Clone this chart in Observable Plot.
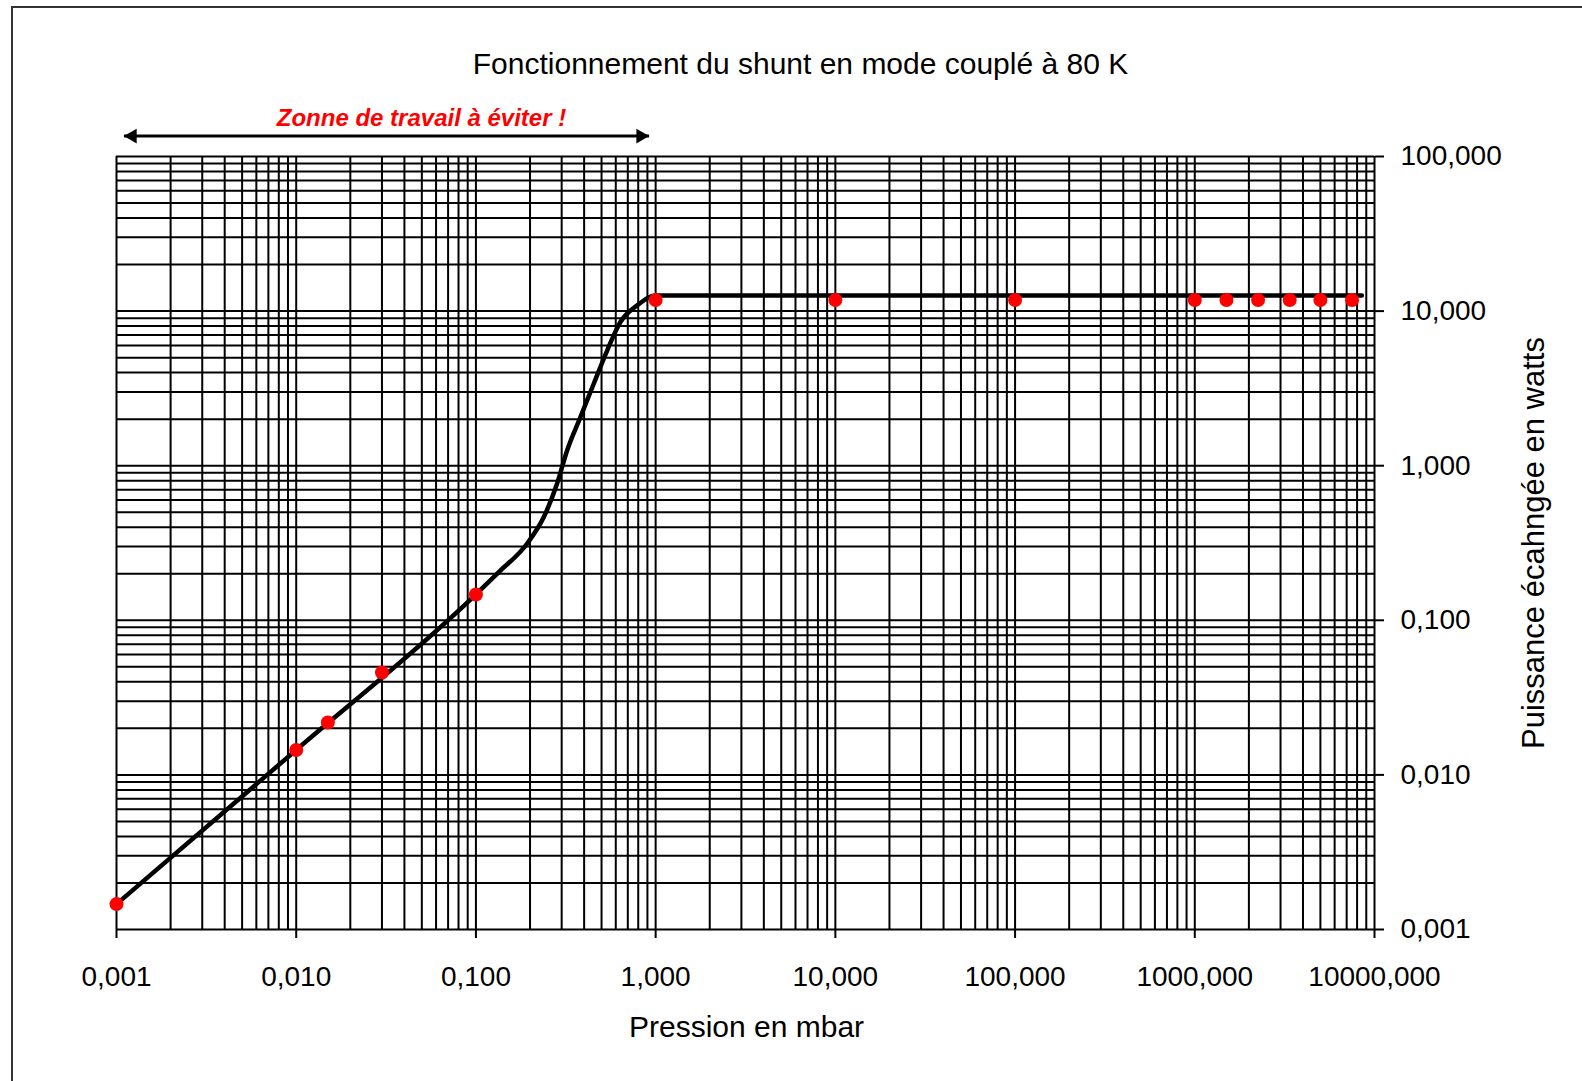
<!DOCTYPE html>
<html><head><meta charset="utf-8">
<script src="https://cdn.jsdelivr.net/npm/d3@7"></script>
<script src="https://cdn.jsdelivr.net/npm/@observablehq/plot@0.6"></script>
<style>
html,body{margin:0;padding:0;background:#fff;overflow:hidden;}
#wrap{position:relative;width:1582px;height:1081px;}
#border{position:absolute;left:11px;top:6px;width:1600px;height:1100px;border-left:2px solid #333;border-top:2px solid #333;}
#chart{position:absolute;left:0;top:0;}
</style>
</head><body><div id="wrap"><div id="border"></div><div id="chart"></div></div>
<script>
// Measured points (red markers)
const pressure = [0.001, 0.01, 0.015, 0.03, 0.1, 1, 10, 100, 1000, 1500, 2250, 3375, 5000, 7500];
const power    = [0.00146, 0.0145, 0.0218, 0.046, 0.147, 11.8, 11.8, 11.8, 11.8, 11.8, 11.8, 11.8, 11.8, 11.8];
// Smoothed curve (black line)
const curvePressure = [0.001, 0.01, 0.1, 0.134, 0.193, 0.239, 0.283, 0.322, 0.382, 0.453, 0.538, 0.638, 0.79, 1, 8500];
const curvePower    = [0.00146, 0.0145, 0.147, 0.205, 0.314, 0.467, 0.767, 1.26, 2.07, 3.4, 5.58, 8.53, 10.9, 12.6, 12.6];
// Axis ticks
const xTicks = [0.001, 0.01, 0.1, 1, 10, 100, 1000, 10000];
const yTicks = [0.001, 0.01, 0.1, 1, 10, 100];
// Texts
const title = "Fonctionnement du shunt en mode couplé à 80 K";
const xLabel = "Pression en mbar";
const yLabel = "Puissance écahngée en watts";
const zoneLabel = "Zonne de travail à éviter !";
const zoneX = [0.0011, 0.92];
const zoneY = 135.5;

const points = pressure.map((p, i) => ({p, w: power[i]}));
const curve = curvePressure.map((p, i) => ({p, w: curvePower[i]}));
const loc = d3.formatLocale({decimal: ",", thousands: "\u00a0", grouping: [3], currency: ["", ""]});
const fmt = loc.format(".3f");
const font = "'Liberation Sans', Arial, Helvetica, sans-serif";

const plot = Plot.plot({
  width: 1582, height: 1081,
  marginLeft: 116, marginRight: 208, marginTop: 156, marginBottom: 152,
  style: {fontFamily: font, fontSize: "28px", color: "#000", background: "transparent", overflow: "visible"},
  x: {type: "log", domain: [0.001, 10000]},
  y: {type: "log", domain: [0.001, 100]},
  marks: [
    Plot.gridX({ticks: 50, stroke: "#000", strokeOpacity: 1, strokeWidth: 2}),
    Plot.gridY({ticks: 50, stroke: "#000", strokeOpacity: 1, strokeWidth: 2}),
    Plot.axisX({ticks: xTicks, tickFormat: fmt, tickSize: 9, tickPadding: 28, label: null, strokeWidth: 2, fontSize: 28}),
    Plot.axisY({anchor: "right", ticks: yTicks, tickFormat: fmt, tickSize: 9, tickPadding: 17, label: null, strokeWidth: 2, fontSize: 28}),
    Plot.line(curve, {x: "p", y: "w", curve: "monotone-x", stroke: "#000", strokeWidth: 4.5}),
    Plot.dot(points, {x: "p", y: "w", r: 7, fill: "#ff0000", stroke: null}),
    Plot.link([0], {x1: () => zoneX[0], x2: () => zoneX[1], y1: () => zoneY, y2: () => zoneY, stroke: "#000", strokeWidth: 3}),
    Plot.dot([0], {x: () => zoneX[0], y: () => zoneY, symbol: "triangle", rotate: -90, r: 5.5, fill: "#000", dx: 8.5}),
    Plot.dot([0], {x: () => zoneX[1], y: () => zoneY, symbol: "triangle", rotate: 90, r: 5.5, fill: "#000", dx: -8.5}),
    Plot.text([zoneLabel], {frameAnchor: "top-left", text: d => d, dx: 305, dy: -31, textAnchor: "middle", lineAnchor: "bottom", fill: "#ff0000", fontSize: 24, fontWeight: "bold", fontStyle: "italic"}),
    Plot.text([title], {frameAnchor: "top", text: d => d, dx: 55, dy: -83, textAnchor: "middle", lineAnchor: "bottom", fill: "#000", fontSize: 30}),
    Plot.text([xLabel], {frameAnchor: "bottom", text: d => d, dx: 1, dy: 107, textAnchor: "middle", lineAnchor: "bottom", fill: "#000", fontSize: 30}),
    Plot.text([yLabel], {frameAnchor: "right", text: d => d, dx: 169, rotate: -90, textAnchor: "middle", lineAnchor: "bottom", fill: "#000", fontSize: 31})
  ]
});
document.getElementById("chart").appendChild(plot);
</script>
</body></html>
